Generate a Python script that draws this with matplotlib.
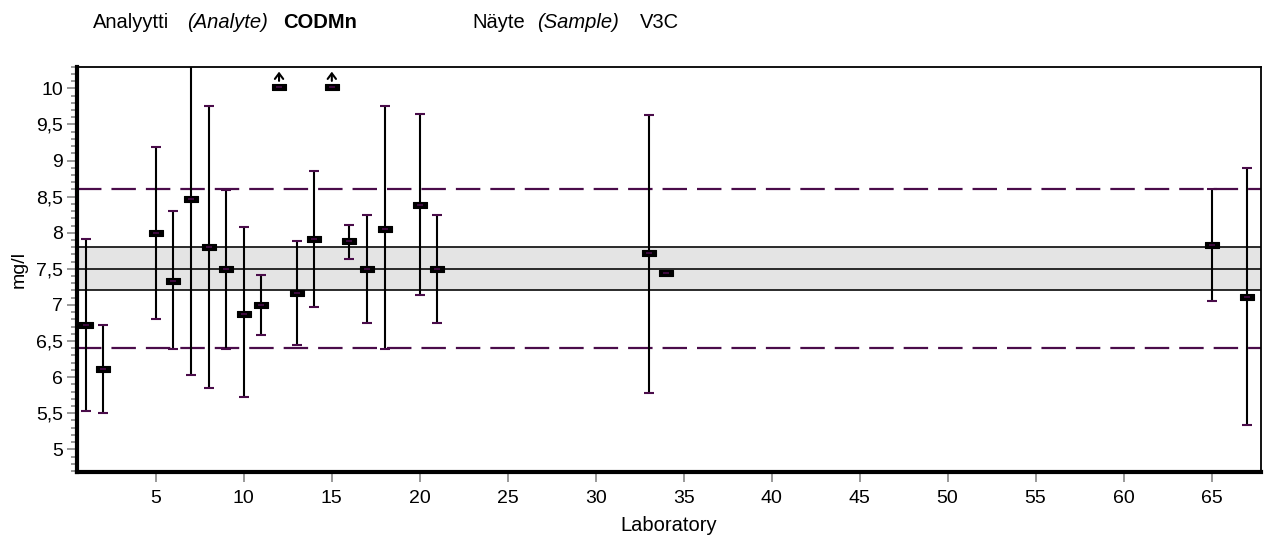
import matplotlib
matplotlib.use("Agg")
import matplotlib.pyplot as plt
from matplotlib.ticker import MultipleLocator, FuncFormatter

plt.rcParams['font.family'] = ['Liberation Sans', 'DejaVu Sans']

# ---- data ----
labs   = [1, 2, 5, 6, 7, 8, 9, 10, 11, 13, 14, 16, 17, 18, 20, 21, 33, 34, 65, 67]
means  = [6.72, 6.11, 8.00, 7.33, 8.47, 7.80, 7.50, 6.88, 7.00, 7.16, 7.91, 7.89, 7.50, 8.05, 8.38, 7.50, 7.72, 7.44, 7.83, 7.11]
uppers = [7.91, 6.72, 9.19, 8.30, 10.91, 9.75, 8.59, 8.08, 7.41, 7.89, 8.85, 8.11, 8.25, 9.75, 9.64, 8.25, 9.63, None, 8.61, 8.89]
lowers = [5.53, 5.50, 6.81, 6.39, 6.03, 5.85, 6.39, 5.72, 6.58, 6.44, 6.97, 7.64, 6.75, 6.39, 7.14, 6.75, 5.78, None, 7.05, 5.33]
offscale_labs = [12, 15]
offscale_shown = 10.02
assigned = 7.5
band_low, band_high = 7.2, 7.8
limit_low, limit_high = 6.4, 8.6

purple = '#4a0c4a'

fig = plt.figure(figsize=(12.68, 5.41), dpi=100)
ax = fig.add_axes([0.0605, 0.1281, 0.9338, 0.7486])
ax.set_xlim(0.5, 67.8)
ax.set_ylim(4.69, 10.3)

# band and reference lines
ax.axhspan(band_low, band_high, color='#e4e4e4', zorder=0, lw=0)
for yv in (band_low, assigned, band_high):
    ax.axhline(yv, color='#1a1a1a', lw=1.3, zorder=1)
for yv in (limit_low, limit_high):
    ax.axhline(yv, color=purple, lw=1.6, dashes=(11, 4.5), zorder=1)

# error bars
for x, m, u, l in zip(labs, means, uppers, lowers):
    if u is not None:
        ax.plot([x, x], [l, u], color='black', lw=1.5, zorder=3, solid_capstyle='butt')
        ax.plot([x, x], [l, u], ls='none', marker='_', ms=7, mew=1.5, color=purple, zorder=4)

rect = [(-1.3, -0.5), (1.3, -0.5), (1.3, 0.5), (-1.3, 0.5), (-1.3, -0.5)]
ax.plot(labs, means, ls='none', marker=rect, ms=9.5, mfc='black', mec='black', mew=0.8, zorder=5)
ax.plot(labs, means, ls='none', marker='_', ms=5, mew=1.2, color=purple, zorder=6)

# off-scale results
ax.plot(offscale_labs, [offscale_shown] * len(offscale_labs), ls='none', marker=rect, ms=9.5,
        mfc='black', mec='black', mew=0.8, zorder=5)
ax.plot(offscale_labs, [offscale_shown] * len(offscale_labs), ls='none', marker='_', ms=5, mew=1.2,
        color=purple, zorder=6)
for x in offscale_labs:
    ax.annotate('', xy=(x, 10.27), xytext=(x, 10.065),
                arrowprops=dict(arrowstyle='->,head_length=0.4,head_width=0.3', color='black', lw=1.5),
                annotation_clip=False, zorder=7)

# axes styling
ax.spines['left'].set_linewidth(3)
ax.spines['bottom'].set_linewidth(3)
ax.spines['top'].set_linewidth(1.3)
ax.spines['right'].set_linewidth(1.3)
for s in ax.spines.values():
    s.set_color('black')

ax.set_xticks(list(range(5, 70, 5)))
ax.yaxis.set_minor_locator(MultipleLocator(0.1))
ax.set_yticks([5, 5.5, 6, 6.5, 7, 7.5, 8, 8.5, 9, 9.5, 10])
ax.yaxis.set_major_formatter(FuncFormatter(lambda v, p: ('%g' % v).replace('.', ',')))
ax.tick_params(axis='x', direction='out', length=7, width=1.2, color='#888888', labelsize=14, pad=6)
ax.tick_params(axis='y', which='major', direction='out', length=7, width=1.2, color='#888888', labelsize=14, pad=3)
ax.tick_params(axis='y', which='minor', direction='out', length=4, width=1.2, color='#888888')

ax.set_xlabel('Laboratory', fontsize=14.5, labelpad=7)
ax.set_ylabel('mg/l', fontsize=14, labelpad=6)

# header
hy = 1 - 23/541
fig.text(93/1268, hy, 'Analyytti', fontsize=14.5, va='center', ha='left')
fig.text(187/1268, hy, '(Analyte)', fontsize=14.5, va='center', ha='left', style='italic')
fig.text(283/1268, hy, 'CODMn', fontsize=14.5, va='center', ha='left', weight='bold')
fig.text(472/1268, hy, 'Näyte', fontsize=14.5, va='center', ha='left')
fig.text(537/1268, hy, '(Sample)', fontsize=14.5, va='center', ha='left', style='italic')
fig.text(640/1268, hy, 'V3C', fontsize=14.5, va='center', ha='left')

fig.savefig('out.png', dpi=100)
